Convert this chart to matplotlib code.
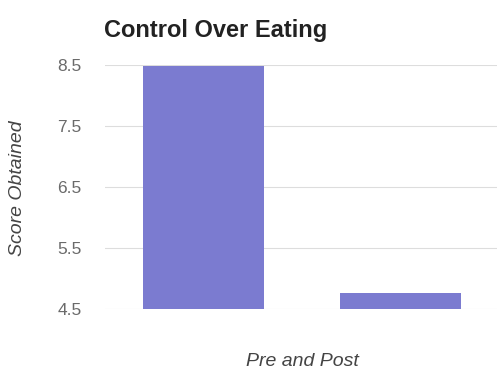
import matplotlib
matplotlib.use("Agg")
import matplotlib.pyplot as plt

# data
categories = ["Pre", "Post"]
scores = [8.48, 4.77]
yticks = [4.5, 5.5, 6.5, 7.5, 8.5]

plt.rcParams['font.family'] = ['Liberation Sans', 'DejaVu Sans']

fig = plt.figure(figsize=(4.97, 3.68), dpi=100)
ax = fig.add_axes([105 / 497, 1 - 309 / 368, 394 / 497, 244 / 368])

x = list(range(len(categories)))
ax.bar(x, scores, width=0.61, bottom=0, color='#7b7bd0', zorder=2)

ax.set_xlim(-0.5, 1.5)
ax.set_ylim(4.5, 8.5)
ax.set_yticks(yticks)
ax.set_yticklabels([f"{v:.1f}" for v in yticks])
ax.set_xticks([])
ax.grid(axis='y', color='#dddddd', linewidth=0.8, zorder=0)
for s in ax.spines.values():
    s.set_visible(False)
ax.tick_params(axis='y', length=0, pad=17, labelsize=12.5, labelcolor='#6a6a6a')

fig.text(104 / 497, 1 - 31 / 368, "Control Over Eating", fontsize=17,
         fontweight='bold', color='#222222', va='center', ha='left')
fig.text(18 / 497, 1 - 188 / 368, "Score Obtained", fontsize=14, style='italic',
         color='#444444', rotation=90, va='center', ha='center')
fig.text(302 / 497, 1 - 361 / 368, "Pre and Post", fontsize=14, style='italic',
         color='#444444', va='center', ha='center')

fig.savefig("out.png", dpi=100)
